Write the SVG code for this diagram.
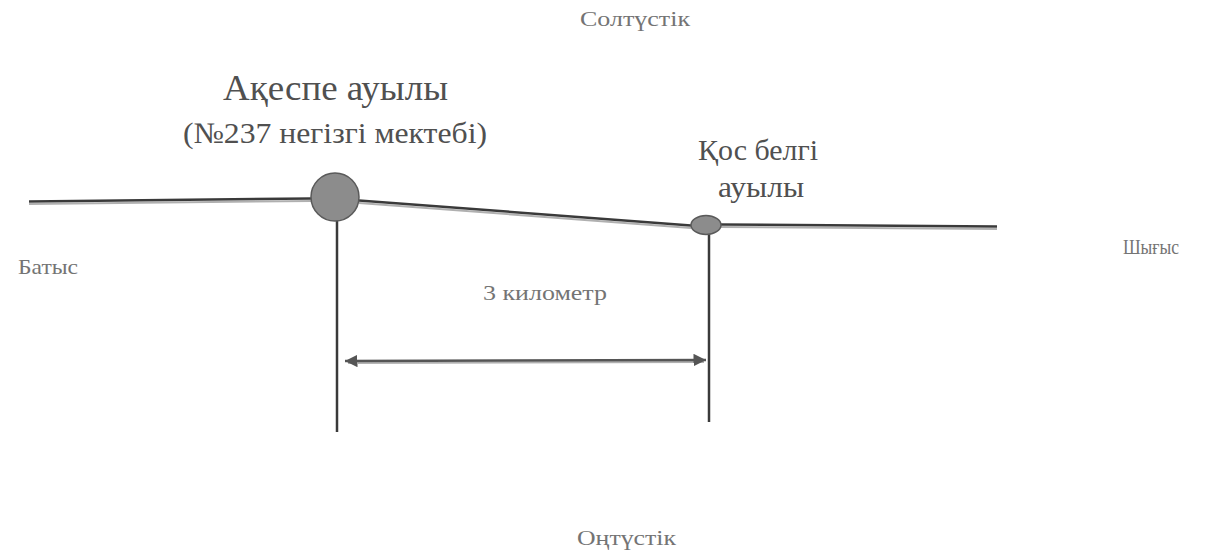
<svg xmlns="http://www.w3.org/2000/svg" width="1219" height="550" viewBox="0 0 1219 550">
<style>
text{font-family:"Liberation Serif","Times New Roman",serif;fill:#505050;}
.s{font-size:21px;fill:#747474;}
.b1{font-size:35px;}
.b2{font-size:30px;}
.l{stroke:#3a3a3a;stroke-width:2.5;fill:none;}
.f{stroke:#b0b0b0;stroke-width:2;fill:none;}
.v{stroke:#3a3a3a;stroke-width:2.5;fill:none;}
</style>
<defs>
<marker id="ah" viewBox="0 0 10 10" refX="10" refY="5" markerWidth="5" markerHeight="5" orient="auto-start-reverse">
<path d="M0,0 L10,5 L0,10 z" fill="#555"/>
</marker>
</defs>
<rect width="1219" height="550" fill="#fff"/>
<g id="connectors">
<path class="f" d="M29,204 L312,201"/>
<path class="f" d="M359,203 L691,228"/>
<path class="f" d="M719,227 L997,229"/>
<path class="l" d="M29,201.5 L312,198.5"/>
<path class="l" d="M359,200.5 L691,225.5"/>
<path class="l" d="M719,224.5 L997,226.5"/>
<path class="v" d="M337,220 L337,432"/>
<path class="v" d="M709,233 L709,422"/>
<path class="f" d="M348,363 L704,362"/>
<path d="M345,361 L706,360" stroke="#555" stroke-width="2.5" marker-start="url(#ah)" marker-end="url(#ah)"/>
</g>
<g id="node-akespe">
<circle cx="335" cy="197" r="24" fill="#8c8c8c" stroke="#5a5a5a" stroke-width="1.5"/>
<text class="b1" x="223" y="100" textLength="225" lengthAdjust="spacingAndGlyphs">Ақеспе ауылы</text>
<text class="b2" x="183" y="143" textLength="304" lengthAdjust="spacingAndGlyphs">(№237 негізгі мектебі)</text>
</g>
<g id="node-kosbelgi">
<ellipse cx="706" cy="225" rx="15" ry="9.5" fill="#8c8c8c" stroke="#5a5a5a" stroke-width="1.5"/>
<text class="b2" x="698" y="160" textLength="120" lengthAdjust="spacingAndGlyphs">Қос белгі</text>
<text class="b2" x="718" y="197" textLength="86" lengthAdjust="spacingAndGlyphs">ауылы</text>
</g>
<g id="labels">
<text class="s" x="580" y="26" textLength="110" lengthAdjust="spacingAndGlyphs">Солтүстік</text>
<text class="s" x="577" y="545" textLength="99" lengthAdjust="spacingAndGlyphs">Оңтүстік</text>
<text class="s" x="18" y="274" textLength="60" lengthAdjust="spacingAndGlyphs">Батыс</text>
<text class="s" x="1123" y="254" textLength="56" lengthAdjust="spacingAndGlyphs">Шығыс</text>
<text class="s" x="483" y="300" textLength="124" lengthAdjust="spacingAndGlyphs">3 километр</text>
</g>
</svg>
